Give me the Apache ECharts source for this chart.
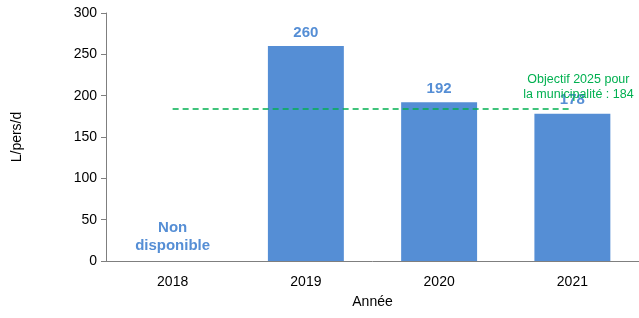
<!DOCTYPE html>
<html>
<head>
<meta charset="utf-8">
<script src="https://cdn.jsdelivr.net/npm/echarts@6/dist/echarts.min.js"></script>
<style>
  html, body { margin: 0; padding: 0; background: #fff; }
  #chart { width: 639px; height: 318px; }
</style>
</head>
<body>
<div id="chart"></div>
<script>
// data
const years = ["2018", "2019", "2020", "2021"];
const consumption = [null, 260, 192, 178];
const target = [184, 184, 184, 184];
const yTicks = [0, 50, 100, 150, 200, 250, 300];

const chart = echarts.init(document.getElementById("chart"));

const barData = consumption.map(function (v) {
  if (v === null) {
    return { value: 0, label: { formatter: "Non\ndisponible", lineHeight: 18 } };
  }
  return v;
});

const option = {
  animation: false,
  textStyle: { fontFamily: "Liberation Sans, Arial, sans-serif" },
  grid: { left: 106, right: -1, top: 13, bottom: 57 },
  xAxis: {
    type: "category",
    data: years,
    name: "Année",
    nameLocation: "middle",
    nameGap: 34,
    nameTextStyle: { fontSize: 14, color: "#000" },
    axisLine: { lineStyle: { color: "#7f7f7f" } },
    axisTick: { show: false },
    axisLabel: { fontSize: 14, color: "#000", margin: 14 }
  },
  yAxis: {
    type: "value",
    min: yTicks[0],
    max: yTicks[yTicks.length - 1],
    interval: 50,
    name: "L/pers/d",
    nameLocation: "middle",
    nameGap: 82,
    nameTextStyle: { fontSize: 14, color: "#000" },
    axisLine: { show: true, lineStyle: { color: "#7f7f7f" } },
    axisTick: { show: true, length: 5, lineStyle: { color: "#7f7f7f" } },
    axisLabel: { fontSize: 14, color: "#000", margin: 9 },
    splitLine: { show: false }
  },
  series: [
    {
      type: "bar",
      data: barData,
      barWidth: "57%",
      itemStyle: { color: "#558ed5" },
      label: {
        show: true,
        position: "top",
        distance: 6,
        color: "#558ed5",
        fontWeight: "bold",
        fontSize: 15
      }
    },
    {
      type: "line",
      data: target,
      symbol: "none",
      lineStyle: { color: "#00b050", type: [6, 4], width: 1.5 },
      z: 3,
      endLabel: {
        show: true,
        formatter: "Objectif 2025 pour\nla municipalité : 184",
        color: "#00b050",
        fontSize: 12.5,
        lineHeight: 15,
        align: "center",
        offset: [-2, -22]
      }
    }
  ]
};

chart.setOption(option);
window.addEventListener("resize", function () { chart.resize(); });
</script>
</body>
</html>
